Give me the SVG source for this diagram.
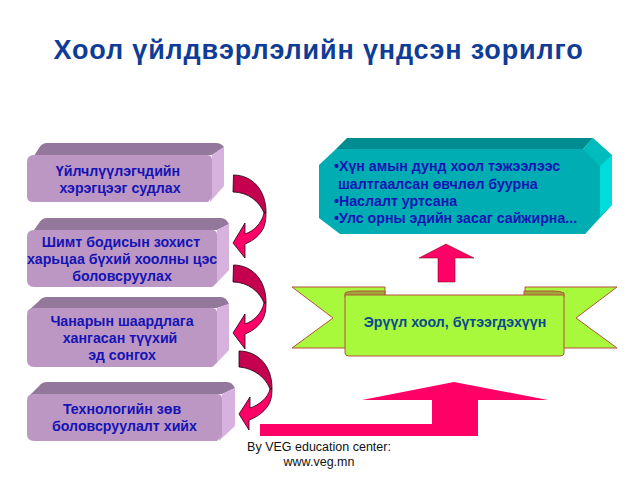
<svg xmlns="http://www.w3.org/2000/svg" width="638" height="479" viewBox="0 0 638 479">
<defs>
<style>
text{font-family:"Liberation Sans",Arial,sans-serif;font-weight:bold;fill:#1414b4;font-size:14.2px;text-anchor:middle}
.front{fill:#bd97c3}.top{fill:#94789b}.side{fill:#d7b2de}
.dark{fill:#c4004f;stroke:#1a0010;stroke-width:.8}.bright{fill:#ff0066;stroke:#1a0010;stroke-width:.8}
</style>
</defs>
<rect width="638" height="479" fill="#fff"/>
<text id="title" x="318.500" y="59" style="font-size:27px;fill:#0f3c96;letter-spacing:.85px">Хоол үйлдвэрлэлийн үндсэн зорилго</text>
<g id="box1">
<path class="top" d="M27 167L39 148Q42 143 47 143H216Q221 143 224 147L212 155H35Z"/>
<path class="side" d="M212 155L224 147V186L210 202Z"/>
<path class="front" d="M34 155H207Q212 155 212 160V197L208 202H33Q27 202 27 196V162Q27 155 34 155Z"/>
<text x="118" y="176">Үйлчлүүлэгчдийн</text><text x="120" y="193">хэрэгцээг судлах</text>
</g>
<g id="box2">
<path class="top" d="M27 240L39 223Q42 218 47 218H221Q226 218 229 224L217 230H35Z"/>
<path class="side" d="M217 230L229 224V270L213 287Z"/>
<path class="front" d="M34 230H212Q217 230 217 235V282L212 287H34Q27 287 27 280V237Q27 230 34 230Z"/>
<text x="121" y="247">Шимт бодисын зохист</text><text x="122" y="264">харьцаа бүхий хоолны цэс</text><text x="122" y="281">боловсруулах</text>
</g>
<g id="box3">
<path class="top" d="M27 312L39 301Q42 297 47 297H221Q226 297 229 304L217 308H35Z"/>
<path class="side" d="M217 308L229 304V350L213 367Z"/>
<path class="front" d="M34 308H212Q217 308 217 313V362L212 367H34Q27 367 27 360V315Q27 308 34 308Z"/>
<text x="122" y="326">Чанарын шаардлага</text><text x="120" y="343">хангасан түүхий</text><text x="122" y="360">эд сонгох</text>
</g>
<g id="box4">
<path class="top" d="M27 398L39 386Q42 382 47 382H227Q232 382 235 388L222 394H35Z"/>
<path class="side" d="M222 394L235 388V426L219 441Z"/>
<path class="front" d="M34 394H217Q222 394 222 399V436L217 441H34Q27 441 27 434V401Q27 394 34 394Z"/>
<text x="122" y="414">Технологийн зөв</text><text x="124.500" y="431">боловсруулалт хийх</text>
</g>
<g id="goal">
<path fill="#00bcbc" d="M583 149L593 138L612 155V205L585 234Z"/>
<path fill="#00dcdc" d="M600 166L612 155V205L600 216Z"/>
<path fill="#008c90" d="M347 138H593L583 149H336Z"/>
<path fill="#00adb2" d="M336 149H583L600 166V216L585 234H340L319 218V165Z"/>
<text x="334" y="171" style="text-anchor:start">•Хүн амын  дунд хоол тэжээлээс</text>
<text x="338" y="189" style="text-anchor:start">шалтгаалсан өвчлөл буурна</text>
<text x="334" y="206" style="text-anchor:start">•Наслалт уртсана</text>
<text x="334" y="223" style="text-anchor:start">•Улс орны эдийн засаг сайжирна...</text>
</g>
<g id="ribbon" stroke="#b5533c" stroke-width="1">
<path fill="#a8f93c" d="M292 287H385V348H292L333 318Z"/>
<path fill="#a8f93c" d="M617 287H525V348H617L576 318Z"/>
<path fill="#a0a53a" d="M345 293Q348 291 358 291H385V297H345Z"/>
<path fill="#a0a53a" d="M564 293Q561 291 552 291H524V297H564Z"/>
<path fill="#a8f93c" d="M345 295H564V353Q564 356 560 356H349Q345 356 345 353Z"/>
<text x="455" y="327" stroke="none" style="fill:#0a4a90">Эрүүл хоол, бүтээгдэхүүн</text>
</g>
<g id="connectors">
<path class="bright" d="M266 212C266 220 265 225 263 229C258 238 250 242 245 244V258L233 243L245 223V234C254 231 262 223 264 213Z"/>
<path class="dark" d="M233.500 175C252 175 266 190 266 212L264 213C260 202 248 192 233 192Z"/>
<path class="bright" d="M266 302C266 310 265 315 263 319C258 328 250 332 245 334V349L233 333L245 314V324C254 321 262 313 264 303Z"/>
<path class="dark" d="M233.500 265C252 265 266 280 266 302L264 303C260 292 248 282 233 282Z"/>
<path class="bright" d="M272 388C272 396 271 400 269 404C264 413 255 418 249 420V430L239 414L250 397V408C259 405 268 398 270 389Z"/>
<path class="dark" d="M239 351C258 351 272 366 272 388L270 389C266 378 254 368 239 367Z"/>
<path fill="#ff0066" d="M446 244L474 258H455V282H438V258H419Z" stroke="#600" stroke-width=".5"/>
<path fill="#ff0066" d="M454 382L548 400H478V436H260V424H432V400H362Z"/>
</g>
<text x="319" y="451" style="font-weight:normal;fill:#111;font-size:12.500px">By VEG education center:</text>
<text x="319" y="466" style="font-weight:normal;fill:#111;font-size:12.500px">www.veg.mn</text>
</svg>
